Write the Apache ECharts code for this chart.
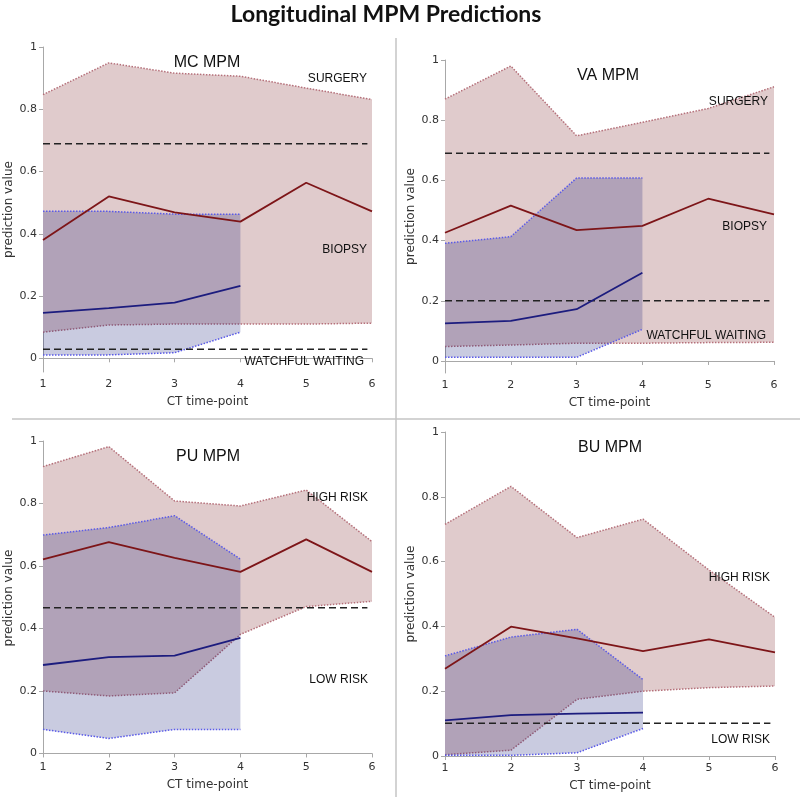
<!DOCTYPE html>
<html><head><meta charset="utf-8">
<script src="https://cdn.jsdelivr.net/npm/echarts@6/dist/echarts.min.js"></script>
<style>html,body{margin:0;padding:0;background:#fff}#c{width:800px;height:797px}</style>
</head><body><div id="c"></div>
<script>
// ---------- data ----------
const timePoints = [1, 2, 3, 4, 5, 6];
const bluePoints = [1, 2, 3, 4];
const yTicks = [0, 0.2, 0.4, 0.6, 0.8, 1];
const dashEnd = 5.93;

// MC MPM
const mcRedMean  = [0.380, 0.520, 0.469, 0.439, 0.564, 0.472];
const mcRedUpper = [0.847, 0.949, 0.916, 0.906, 0.868, 0.831];
const mcRedLower = [0.084, 0.107, 0.110, 0.110, 0.110, 0.113];
const mcBlueMean  = [0.146, 0.161, 0.179, 0.233];
const mcBlueUpper = [0.472, 0.472, 0.463, 0.463];
const mcBlueLower = [0.011, 0.011, 0.018, 0.084];
const mcThresholds = [0.689, 0.029];
const mcLabels = ['SURGERY', 'BIOPSY', 'WATCHFUL WAITING'];

// VA MPM
const vaRedMean  = [0.426, 0.516, 0.435, 0.449, 0.539, 0.487];
const vaRedUpper = [0.870, 0.980, 0.748, 0.793, 0.839, 0.911];
const vaRedLower = [0.048, 0.053, 0.059, 0.059, 0.061, 0.062];
const vaBlueMean  = [0.125, 0.133, 0.172, 0.293];
const vaBlueUpper = [0.391, 0.413, 0.608, 0.608];
const vaBlueLower = [0.012, 0.012, 0.012, 0.105];
const vaThresholds = [0.690, 0.200];
const vaLabels = ['SURGERY', 'BIOPSY', 'WATCHFUL WAITING'];

// PU MPM
const puRedMean  = [0.621, 0.676, 0.626, 0.581, 0.685, 0.581];
const puRedUpper = [0.918, 0.982, 0.808, 0.792, 0.843, 0.678];
const puRedLower = [0.200, 0.184, 0.194, 0.381, 0.470, 0.487];
const puBlueMean  = [0.283, 0.308, 0.313, 0.370];
const puBlueUpper = [0.699, 0.723, 0.761, 0.622];
const puBlueLower = [0.077, 0.048, 0.077, 0.077];
const puThresholds = [0.466];
const puLabels = ['HIGH RISK', 'LOW RISK'];

// BU MPM
const buRedMean  = [0.269, 0.399, 0.363, 0.324, 0.360, 0.320];
const buRedUpper = [0.715, 0.832, 0.674, 0.731, 0.574, 0.428];
const buRedLower = [0.004, 0.018, 0.175, 0.200, 0.211, 0.216];
const buBlueMean  = [0.110, 0.126, 0.131, 0.134];
const buBlueUpper = [0.309, 0.367, 0.391, 0.236];
const buBlueLower = [0.002, 0.002, 0.010, 0.085];
const buThresholds = [0.101];
const buLabels = ['HIGH RISK', 'LOW RISK'];

// ---------- layout / style ----------
const panels = [
  {title:'MC MPM', rm:mcRedMean, ru:mcRedUpper, rl:mcRedLower, bm:mcBlueMean, bu:mcBlueUpper, bl:mcBlueLower, th:mcThresholds, labels:mcLabels,
   grid:{left:43, top:47, width:329, height:325}, ymin:-0.044, titlePos:[207,63], labelPos:[[367,79],[367,250],[364,362]]},
  {title:'VA MPM', rm:vaRedMean, ru:vaRedUpper, rl:vaRedLower, bm:vaBlueMean, bu:vaBlueUpper, bl:vaBlueLower, th:vaThresholds, labels:vaLabels,
   grid:{left:445, top:60, width:329, height:313}, ymin:-0.040, titlePos:[608,76], labelPos:[[768,102],[767,227],[766,336]]},
  {title:'PU MPM', rm:puRedMean, ru:puRedUpper, rl:puRedLower, bm:puBlueMean, bu:puBlueUpper, bl:puBlueLower, th:puThresholds, labels:puLabels,
   grid:{left:43, top:441, width:329, height:314}, ymin:-0.005, titlePos:[208,457], labelPos:[[368,498],[368,680]]},
  {title:'BU MPM', rm:buRedMean, ru:buRedUpper, rl:buRedLower, bm:buBlueMean, bu:buBlueUpper, bl:buBlueLower, th:buThresholds, labels:buLabels,
   grid:{left:445, top:432, width:330, height:324}, ymin:0, titlePos:[610,448], labelPos:[[770,578],[770,740]]}
];

const RED_FILL = 'rgb(224,203,204)';
const BLUE_FILL = 'rgba(10,19,114,0.22)';
const RED_DOT = '#b5707a';
const BLUE_DOT = '#5a5ae8';
const RED_LINE = '#7d1518';
const BLUE_LINE = '#1c1c7e';
const AXIS_COLOR = '#a8a8a8';
const dotted = [1.5, 1.5];

const grids = [], xAxes = [], yAxes = [], series = [], graphics = [];

const pairs = (xs, ys) => ys.map((v, i) => [xs[i], v]);

function bandSeries(i, xs, up, lo, fill, z) {
  return {
    type:'custom', xAxisIndex:i, yAxisIndex:i, silent:true, animation:false, z:z,
    coordinateSystem:'cartesian2d',
    data:[[xs[0], up[0]]],
    encode:{x:0, y:1},
    renderItem:function (params, api) {
      const top = up.map((v, k) => api.coord([xs[k], v]));
      const bot = lo.map((v, k) => api.coord([xs[k], v])).reverse();
      return {type:'polygon', shape:{points:top.concat(bot)}, style:{fill:fill, stroke:null}};
    }
  };
}

panels.forEach((p, i) => {
  grids.push(Object.assign({containLabel:false}, p.grid));
  xAxes.push({
    type:'value', gridIndex:i, min:1, max:6, interval:1,
    name:'CT time-point', nameLocation:'middle', nameGap:24,
    nameTextStyle:{fontFamily:'DejaVu Sans', fontSize:12, color:'#333'},
    axisLine:{lineStyle:{color:AXIS_COLOR, width:1}},
    axisTick:{length:4, lineStyle:{color:AXIS_COLOR}},
    axisLabel:{fontFamily:'DejaVu Sans', fontSize:11, color:'#333', margin:7},
    splitLine:{show:false}
  });
  yAxes.push({
    type:'value', gridIndex:i, min:p.ymin, max:1,
    name:'prediction value', nameLocation:'middle', nameGap:28, nameRotate:90,
    nameTextStyle:{fontFamily:'DejaVu Sans', fontSize:12, color:'#333'},
    axisLine:{show:true, lineStyle:{color:AXIS_COLOR, width:1}},
    axisTick:{show:true, length:4, customValues:yTicks, lineStyle:{color:AXIS_COLOR}},
    axisLabel:{fontFamily:'DejaVu Sans', fontSize:11, color:'#333', margin:6, customValues:yTicks},
    splitLine:{show:false}
  });
  const common = {type:'line', xAxisIndex:i, yAxisIndex:i, symbol:'none', silent:true, animation:false};
  // red band
  series.push(bandSeries(i, timePoints, p.ru, p.rl, RED_FILL, 1));
  series.push(Object.assign({}, common, {data:pairs(timePoints, p.ru), z:2, lineStyle:{color:RED_DOT, width:1.5, type:dotted}}));
  series.push(Object.assign({}, common, {data:pairs(timePoints, p.rl), z:2, lineStyle:{color:RED_DOT, width:1.5, type:dotted}}));
  // blue band
  series.push(bandSeries(i, bluePoints, p.bu, p.bl, BLUE_FILL, 3));
  series.push(Object.assign({}, common, {data:pairs(bluePoints, p.bu), z:4, lineStyle:{color:BLUE_DOT, width:1.5, type:dotted}}));
  series.push(Object.assign({}, common, {data:pairs(bluePoints, p.bl), z:4, lineStyle:{color:BLUE_DOT, width:1.5, type:dotted}}));
  // thresholds
  p.th.forEach(t => {
    series.push(Object.assign({}, common, {data:[[1, t], [dashEnd, t]], z:5,
      lineStyle:{color:'#222', width:1.5, type:[7, 4]}}));
  });
  // means
  series.push(Object.assign({}, common, {data:pairs(timePoints, p.rm), z:6, lineStyle:{color:RED_LINE, width:1.8}}));
  series.push(Object.assign({}, common, {data:pairs(bluePoints, p.bm), z:6, lineStyle:{color:BLUE_LINE, width:1.8}}));

  graphics.push({type:'text', x:p.titlePos[0], y:p.titlePos[1], z:10,
    style:{text:p.title, fontFamily:'Liberation Sans', fontSize:16, fill:'#111', align:'center', verticalAlign:'middle'}});
  p.labels.forEach((lab, k) => {
    graphics.push({type:'text', x:p.labelPos[k][0], y:p.labelPos[k][1], z:10,
      style:{text:lab, fontFamily:'Liberation Sans', fontSize:12, fill:'#111', align:'right', verticalAlign:'middle'}});
  });
});

graphics.push({type:'line', shape:{x1:12, y1:419, x2:800, y2:419}, style:{stroke:'#c4c4c4', lineWidth:1.5}});
graphics.push({type:'line', shape:{x1:396, y1:38, x2:396, y2:797}, style:{stroke:'#c4c4c4', lineWidth:1.5}});
graphics.push({type:'text', x:386, y:15, z:10,
  style:{text:'Longitudinal MPM Predictions', fontFamily:'Lato', fontWeight:'bold', fontSize:23, fill:'#111', align:'center', verticalAlign:'middle'}});

const chart = echarts.init(document.getElementById('c'), null, {renderer:'canvas'});
chart.setOption({
  animation:false,
  backgroundColor:'#fff',
  grid:grids, xAxis:xAxes, yAxis:yAxes, series:series, graphic:graphics
});
</script>
</body></html>
